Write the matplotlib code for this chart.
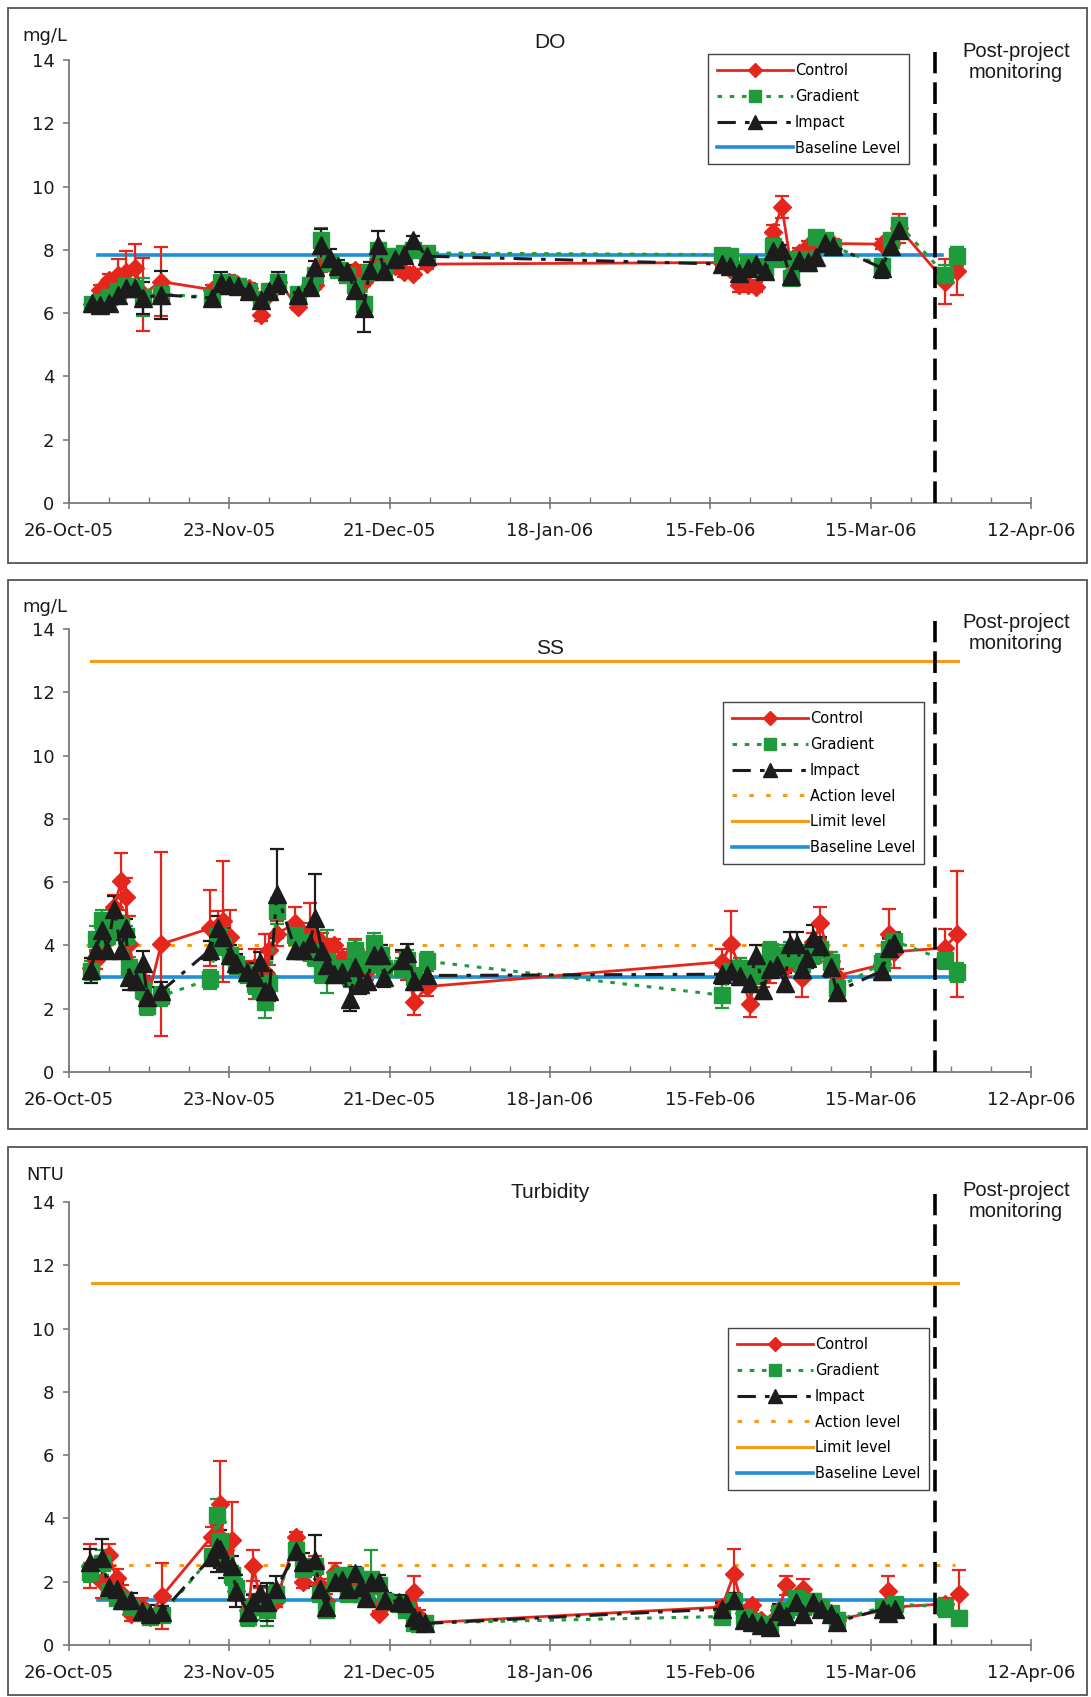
import numpy as np
import matplotlib
matplotlib.use("Agg")
import matplotlib.pyplot as plt
import matplotlib.dates as mdates
from matplotlib.lines import Line2D
from matplotlib.patches import Rectangle
from datetime import datetime

nan = np.nan
START = mdates.date2num(datetime(2005, 10, 26))
POST_DAY = 151.2  # days after 26-Oct-05 where post-project monitoring starts

# ---------------- DO (mg/L) ----------------
do_days = [4, 5.5, 7, 8.5, 10, 11.5, 13, 16,
           25, 26.5, 28, 29.5, 31.5, 33.5, 35, 36.5,
           40, 42, 43, 44, 45.5, 47, 48.5, 50, 51.5, 52.5, 54, 55,
           57, 58.5, 60, 62.5,
           114, 115.5, 117, 118.5, 120, 121.5, 123, 124.5, 126, 127.5, 129, 130.5, 132, 133.5,
           142, 143.5, 145,
           153, 155]
do_control = [6.30, 6.74, 7.05, 7.20, 7.30, 7.43, 6.60, 7.00,
              6.74, 6.95, 7.00, 6.90, 6.80, 5.95, 6.60, 7.00,
              6.20, 6.90, 6.90, 7.50, 7.60, 7.40, 7.30, 7.37, 7.00, 7.20, 7.70, 7.50,
              7.50, 7.30, 7.25, 7.55,
              7.60, 7.40, 6.88, 6.90, 6.82, 7.50, 8.57, 9.36, 7.60, 7.90, 8.12, 8.10, 8.20, 8.20,
              8.18, 8.20, 8.68,
              7.00, 7.33]
do_control_err = [0.10, 0.15, 0.20, 0.50, 0.65, 0.75, 1.15, 1.10,
                  0.15, 0.20, 0.20, 0.15, 0.15, 0.20, 0.15, 0.20,
                  0.10, 0.15, 0.15, 0.20, 0.20, 0.15, 0.15, 0.15, 0.15, 0.15, 0.20, 0.15,
                  0.15, 0.15, 0.15, 0.15,
                  0.15, 0.15, 0.20, 0.15, 0.15, 0.15, 0.20, 0.35, 0.15, 0.15, 0.15, 0.15, 0.15, 0.15,
                  0.15, 0.30, 0.45,
                  0.70, 0.75]
do_gradient = [6.30, 6.35, 6.50, 6.70, 6.85, 6.80, 6.50, 6.60,
               6.50, 7.00, 6.95, 6.85, 6.70, 6.45, 6.70, 7.00,
               6.60, 6.90, 7.20, 8.30, 7.60, 7.35, 7.20, 6.90, 6.30, 7.30, 8.00, 7.40,
               7.80, 7.90, 8.00, 7.90,
               7.85, 7.80, 7.40, 7.60, 7.50, 7.40, 8.12, 7.70, 7.10, 7.70, 7.60, 8.40, 8.30, 8.10,
               7.50, 8.30, 8.80,
               7.21, 7.80]
do_gradient_err = [0.15, 0.15, 0.15, 0.20, 0.20, 0.20, 0.60, 0.30,
                   0.15, 0.15, 0.15, 0.15, 0.15, 0.15, 0.15, 0.20,
                   0.15, 0.15, 0.20, 0.40, 0.20, 0.20, 0.20, 0.20, 0.20, 0.20, 0.20, 0.20,
                   0.15, 0.15, 0.15, 0.15,
                   0.15, 0.15, 0.15, 0.15, 0.15, 0.15, 0.15, 0.15, 0.20, 0.15, 0.15, 0.15, 0.15, 0.15,
                   0.20, 0.15, 0.20,
                   0.30, 0.30]
do_impact = [6.32, 6.27, 6.32, 6.58, 6.79, 6.79, 6.48, 6.58,
             6.48, 6.95, 6.90, 6.85, 6.69, 6.42, 6.69, 6.95,
             6.58, 6.84, 7.45, 8.16, 7.74, 7.48, 7.32, 6.74, 6.16, 7.37, 8.16, 7.32,
             7.70, 7.85, 8.30, 7.80,
             7.55, 7.50, 7.27, 7.42, 7.55, 7.33, 7.95, 8.00, 7.16, 7.67, 7.61, 7.78, 8.23, 8.12,
             7.42, 8.12, 8.63,
             nan, nan]
do_impact_err = [0.10, 0.10, 0.10, 0.20, 0.20, 0.20, 0.50, 0.75,
                 0.10, 0.35, 0.15, 0.15, 0.15, 0.15, 0.15, 0.35,
                 0.15, 0.15, 0.20, 0.50, 0.30, 0.20, 0.20, 0.20, 0.75, 0.25, 0.45, 0.20,
                 0.15, 0.15, 0.15, 0.15,
                 0.15, 0.15, 0.15, 0.15, 0.15, 0.15, 0.15, 0.15, 0.15, 0.30, 0.15, 0.15, 0.15, 0.15,
                 0.30, 0.20, 0.20,
                 nan, nan]
do_baseline = 7.85
do_baseline_span = (5.0, 152.5)

# ---------------- SS (mg/L) ----------------
ss_days = [3.8, 4.7, 5.8, 6.7, 7.9, 9.1, 9.9, 10.5, 11.7, 12.9, 13.7, 16.1,
           24.6, 26.0, 26.9, 28.1, 29.2, 31.0, 32.5, 33.3, 34.2, 35.0, 36.3,
           39.5, 40.9, 42.1, 43.0, 44.2, 45.0, 46.2, 47.7, 49.1, 50.0, 50.9, 52.0, 53.2, 54.4, 55.0,
           58.2, 59.1, 60.3, 62.5,
           114.0, 115.6, 117.1, 118.9, 120.0, 121.2, 122.4, 123.6, 125.0, 125.9, 127.1, 128.0, 128.9,
           130.0, 131.2, 133.0, 134.1,
           142.0, 143.2, 144.1,
           152.9, 155.1]
ss_control = [3.30, 3.54, 4.00, 4.50, 5.20, 6.03, 5.53, 4.04, 3.00, 2.90, 2.30, 4.04,
              4.54, 4.60, 4.76, 4.26, 3.50, 3.20, 3.10, 3.15, 3.15, 3.87, 4.37,
              4.70, 4.40, 4.43, 4.30, 4.09, 3.90, 4.00, 3.60, 3.50, 3.90, 3.30, 3.20, 3.60, 3.50, 3.30,
              3.40, 3.20, 2.21, 2.70,
              3.48, 4.03, 3.30, 2.15, 3.20, 3.00, 3.40, 3.50, 3.30, 3.70, 3.50, 2.98, 3.60,
              4.10, 4.70, 3.50, 3.04,
              3.40, 4.36, 3.80,
              3.92, 4.36]
ss_control_err = [0.30, 0.30, 0.40, 0.50, 0.40, 0.90, 0.60, 0.90, 0.30, 0.30, 0.40, 2.90,
                  1.20, 0.50, 1.90, 0.85, 0.40, 0.30, 0.80, 0.40, 1.20, 0.50, 0.40,
                  0.50, 0.30, 0.90, 0.30, 0.30, 0.30, 0.20, 0.30, 0.30, 0.30, 0.30, 0.30, 0.40, 0.30, 0.30,
                  0.40, 0.30, 0.40, 0.30,
                  0.40, 1.05, 0.30, 0.40, 0.30, 0.30, 0.60, 0.30, 0.30, 0.30, 0.30, 0.60, 0.30,
                  0.30, 0.50, 0.30, 0.20,
                  0.30, 0.80, 0.50,
                  0.60, 2.00]
ss_gradient = [3.20, 4.20, 4.81, 4.30, 4.54, 4.60, 4.30, 3.32, 3.00, 2.60, 2.10, 2.40,
               2.93, 4.30, 4.00, 3.70, 3.40, 3.10, 2.77, 2.60, 2.21, 2.80, 5.09,
               4.32, 4.10, 3.80, 3.65, 3.10, 3.50, 3.30, 3.30, 3.00, 3.87, 3.50, 3.40, 4.09, 3.70, 3.30,
               3.30, 3.54, 3.00, 3.50,
               2.43, 3.20, 3.30, 3.10, 3.09, 3.30, 3.81, 3.70, 3.60, 3.80, 3.59, 3.40, 3.70,
               3.70, 3.90, 3.48, 2.65,
               3.43, 3.90, 4.14,
               3.54, 3.15]
ss_gradient_err = [0.30, 0.40, 0.30, 0.30, 0.30, 0.30, 0.30, 0.30, 0.30, 0.30, 0.30, 0.30,
                   0.30, 0.30, 0.30, 0.30, 0.30, 0.30, 0.30, 0.30, 0.50, 0.30, 0.40,
                   0.30, 0.30, 0.30, 0.30, 0.30, 1.00, 0.30, 0.30, 0.30, 0.30, 0.30, 0.30, 0.30, 0.30, 0.30,
                   0.30, 0.30, 0.30, 0.30,
                   0.40, 0.30, 0.30, 0.30, 0.30, 0.30, 0.30, 0.30, 0.30, 0.30, 0.30, 0.30, 0.30,
                   0.30, 0.30, 0.30, 0.30,
                   0.30, 0.30, 0.30,
                   0.30, 0.30]
ss_impact = [3.21, 3.87, 4.48, 3.87, 5.15, 3.87, 4.54, 2.99, 2.88, 3.43, 2.38, 2.55,
             3.85, 4.54, 4.26, 3.71, 3.43, 3.15, 2.99, 3.49, 2.55, 2.55, 5.64,
             3.87, 3.87, 4.09, 4.87, 3.82, 3.38, 3.10, 3.15, 2.32, 3.32, 2.77, 2.88, 3.71, 3.71, 2.99,
             3.54, 3.76, 2.88, 3.05,
             3.09, 3.20, 3.04, 2.82, 3.70, 2.60, 3.26, 3.37, 2.82, 4.03, 4.03, 3.26, 3.59,
             4.25, 3.98, 3.31, 2.54,
             3.20, 3.92, 4.09,
             nan, nan]
ss_impact_err = [0.40, 0.30, 0.40, 0.30, 0.40, 0.30, 0.30, 0.40, 0.30, 0.40, 0.30, 0.30,
                 0.30, 0.40, 0.30, 0.30, 0.30, 0.30, 0.30, 0.30, 0.30, 0.30, 1.40,
                 0.30, 0.30, 0.30, 1.40, 0.30, 0.30, 0.30, 0.30, 0.40, 0.30, 0.30, 0.30, 0.40, 0.30, 0.30,
                 0.30, 0.30, 0.30, 0.30,
                 0.30, 0.30, 0.30, 0.30, 0.30, 0.30, 0.30, 0.30, 0.30, 0.40, 0.40, 0.30, 0.30,
                 0.40, 0.30, 0.30, 0.30,
                 0.30, 0.30, 0.30,
                 nan, nan]
ss_limit, ss_limit_span = 13.0, (3.8, 155.2)
ss_action, ss_action_span = 4.0, (3.0, 155.0)
ss_baseline, ss_baseline_span = 3.0, (5.0, 154.0)

# ---------------- Turbidity (NTU) ----------------
tu_days = [3.7, 5.7, 6.9, 8.3, 9.2, 10.9, 12.7, 14.1, 16.2,
           24.9, 25.8, 26.3, 27.2, 28.4, 29.2, 31.3, 32.2, 33.3, 34.5, 36.2,
           39.7, 40.9, 42.9, 43.8, 44.9, 46.4, 47.6, 48.7, 49.9, 51.0, 51.9, 52.8, 54.2, 55.1,
           57.7, 58.9, 60.2, 61.1, 62.2,
           114.0, 116.1, 117.9, 119.3, 120.8, 122.5, 124.0, 125.2, 126.9, 128.1, 129.9, 131.3, 133.1, 134.2,
           142.2, 143.0, 144.2,
           153.0, 155.4]
tu_control = [2.50, 2.00, 2.85, 2.11, 1.60, 0.97, 1.20, 0.90, 1.54,
              3.42, 3.50, 4.45, 3.00, 3.31, 1.70, 1.10, 2.51, 1.50, 1.10, 1.40,
              3.42, 2.00, 2.50, 1.90, 1.40, 2.30, 2.00, 1.80, 2.10, 1.70, 1.90, 1.80, 0.97, 1.30,
              1.30, 1.20, 1.68, 0.90, 0.70,
              1.20, 2.23, 1.00, 1.26, 0.80, 0.70, 1.10, 1.89, 1.40, 1.77, 1.30, 1.20, 1.00, 0.80,
              1.10, 1.72, 1.20,
              1.30, 1.60]
tu_control_err = [0.70, 0.50, 0.35, 0.30, 0.30, 0.20, 0.30, 0.20, 1.05,
                  0.30, 0.30, 1.35, 0.40, 1.20, 0.30, 0.20, 0.50, 0.30, 0.20, 0.20,
                  0.15, 0.20, 0.30, 0.20, 0.20, 0.30, 0.20, 0.20, 0.20, 0.20, 0.20, 0.20, 0.10, 0.20,
                  0.20, 0.20, 0.50, 0.20, 0.10,
                  0.20, 0.80, 0.20, 0.15, 0.10, 0.10, 0.20, 0.30, 0.20, 0.30, 0.20, 0.20, 0.10, 0.10,
                  0.20, 0.45, 0.20,
                  0.20, 0.78]
tu_gradient = [2.30, 2.60, 1.70, 1.50, 1.40, 1.20, 1.00, 0.90, 0.95,
               2.80, 4.10, 3.30, 2.60, 2.20, 1.80, 0.90, 1.20, 1.30, 1.10, 1.60,
               3.00, 2.40, 2.50, 1.60, 1.10, 2.10, 2.20, 1.60, 2.20, 1.60, 1.50, 2.10, 1.90, 1.40,
               1.30, 1.10, 0.70, 0.65, 0.70,
               0.90, 1.40, 0.90, 0.75, 0.65, 0.60, 1.00, 1.10, 1.50, 1.20, 1.40, 1.20, 1.00, 0.80,
               1.20, 1.00, 1.30,
               1.20, 0.86]
tu_gradient_err = [0.30, 0.40, 0.20, 0.20, 0.20, 0.20, 0.20, 0.20, 0.20,
                   0.20, 0.50, 0.60, 0.30, 0.30, 0.30, 0.30, 0.40, 0.30, 0.50, 0.30,
                   0.20, 0.20, 0.20, 0.20, 0.20, 0.20, 0.20, 0.20, 0.20, 0.20, 0.20, 0.90, 0.20, 0.20,
                   0.20, 0.20, 0.20, 0.20, 0.20,
                   0.20, 0.20, 0.20, 0.20, 0.20, 0.20, 0.20, 0.20, 0.20, 0.20, 0.20, 0.20, 0.20, 0.20,
                   0.20, 0.20, 0.20,
                   0.30, 0.20]
tu_impact = [2.62, 2.74, 1.82, 1.77, 1.43, 1.43, 1.08, 0.97, 1.03,
             2.79, 3.10, 3.02, 2.62, 2.51, 1.71, 1.03, 1.37, 1.65, 1.37, 1.77,
             2.96, 2.62, 2.68, 1.77, 1.20, 2.00, 2.05, 1.77, 2.28, 1.82, 1.48, 2.00, 2.00, 1.43,
             1.37, 1.32, 0.90, 0.79, 0.68,
             1.14, 1.43, 0.80, 0.74, 0.63, 0.57, 1.09, 0.92, 1.37, 0.97, 1.37, 1.14, 0.97, 0.74,
             1.14, 1.00, 1.14,
             nan, nan]
tu_impact_err = [0.40, 0.60, 0.20, 0.20, 0.20, 0.20, 0.20, 0.30, 0.20,
                 0.20, 0.80, 0.60, 0.50, 0.30, 0.50, 0.40, 0.20, 0.20, 0.60, 0.40,
                 0.20, 0.30, 0.80, 0.20, 0.20, 0.20, 0.30, 0.20, 0.20, 0.20, 0.20, 0.20, 0.20, 0.20,
                 0.20, 0.20, 0.20, 0.20, 0.20,
                 0.20, 0.20, 0.20, 0.20, 0.20, 0.20, 0.20, 0.20, 0.20, 0.20, 0.20, 0.20, 0.20, 0.20,
                 0.20, 0.20, 0.20,
                 nan, nan]
tu_limit, tu_limit_span = 11.45, (4.0, 155.3)
tu_action, tu_action_span = 2.53, (4.5, 154.7)
tu_baseline, tu_baseline_span = 1.43, (5.0, 153.5)

# ---------------- styling ----------------
RED = "#e4261d"
GREEN = "#1f9a3c"
BLACK = "#1c1c1c"
ORANGE = "#f39c1c"
BLUE = "#1e8fd6"

series_style = {
    "Control": dict(color=RED, ls="-", marker="D", ms=9.5, lw=2.0),
    "Gradient": dict(color=GREEN, ls=(0, (1.5, 2.5)), marker="s", ms=11.5, lw=2.2),
    "Impact": dict(color=BLACK, ls=(0, (6, 3, 1.5, 3)), marker="^", ms=12.5, lw=2.2),
}

W, H = 1091, 1697
fig = plt.figure(figsize=(W / 100, H / 100), dpi=100)


def fx(x):
    return x / W


def fy(y):
    return 1 - y / H


def dnum(days):
    return START + np.asarray(days, dtype=float)


def level_line(ax, y, span, **kw):
    ax.plot(dnum(list(span)), [y, y], **kw)


def draw_panel(box, ax_bottom, ax_top, days, data, unit, unit_y, title, title_y,
               post_y, legend_xy, levels):
    # outer frame
    x0, y0, x1, y1 = box
    fig.patches.append(Rectangle((fx(x0), fy(y1)), fx(x1) - fx(x0), fy(y0) - fy(y1),
                                 transform=fig.transFigure, fill=False,
                                 edgecolor="#555555", lw=1.3))
    ax = fig.add_axes([fx(69), fy(ax_bottom), fx(1031) - fx(69), fy(ax_top) - fy(ax_bottom)])

    for name in ["Control", "Gradient", "Impact"]:
        vals, errs = data[name]
        st = series_style[name]
        ax.errorbar(dnum(days), vals, yerr=errs, color=st["color"], ls=st["ls"], lw=st["lw"],
                    marker=st["marker"], ms=st["ms"], mec=st["color"], mfc=st["color"],
                    ecolor=st["color"], elinewidth=1.6, capsize=5, capthick=1.6, zorder=3)

    names = ["Control", "Gradient", "Impact"]
    handles = [Line2D([], [], color=series_style[n]["color"], ls=series_style[n]["ls"],
                      lw=series_style[n]["lw"], marker=series_style[n]["marker"],
                      ms=series_style[n]["ms"] * 0.8) for n in names]
    labels = list(names)

    if "action" in levels:
        y, span = levels["action"]
        level_line(ax, y, span, color=ORANGE, lw=2.2, ls=(0, (1.5, 4)), zorder=2)
        handles.append(Line2D([], [], color=ORANGE, lw=2.2, ls=(0, (1.5, 4))))
        labels.append("Action level")
    if "limit" in levels:
        y, span = levels["limit"]
        level_line(ax, y, span, color=ORANGE, lw=2.2, zorder=2)
        handles.append(Line2D([], [], color=ORANGE, lw=2.2))
        labels.append("Limit level")
    y, span = levels["baseline"]
    level_line(ax, y, span, color=BLUE, lw=2.6, zorder=2)
    handles.append(Line2D([], [], color=BLUE, lw=2.6))
    labels.append("Baseline Level")

    # post-project divider
    ax.plot(dnum([POST_DAY, POST_DAY]), [0, 14.25], color="black", lw=2.6,
            ls=(0, (6, 2.5)), clip_on=False, zorder=4)

    ax.set_xlim(START, START + 168)
    ax.set_ylim(0, 14)
    ax.set_yticks(range(0, 15, 2))
    ax.xaxis.set_major_locator(matplotlib.ticker.FixedLocator(dnum(range(0, 169, 28))))
    ax.xaxis.set_minor_locator(matplotlib.ticker.FixedLocator(dnum(range(0, 169, 7))))
    ax.xaxis.set_major_formatter(mdates.DateFormatter("%d-%b-%y"))
    for s in ["top", "right"]:
        ax.spines[s].set_visible(False)
    for s in ["left", "bottom"]:
        ax.spines[s].set_color("#7a7a7a")
        ax.spines[s].set_linewidth(1.3)
    ax.tick_params(axis="x", which="major", direction="inout", length=9, width=1.2,
                   color="#7a7a7a", pad=9, labelsize=13, labelcolor="#1a1a1a")
    ax.tick_params(axis="x", which="minor", direction="in", length=4, width=1.0, color="#7a7a7a")
    ax.tick_params(axis="y", direction="out", length=4.5, width=1.2, color="#7a7a7a",
                   pad=6, labelsize=13, labelcolor="#1a1a1a")
    ax.patch.set_alpha(0)

    fig.text(fx(45), fy(unit_y), unit, ha="center", va="center", fontsize=13, color="#1a1a1a")
    fig.text(fx(550), fy(title_y), title, ha="center", va="center", fontsize=15,
             family="Liberation Sans", color="#1a1a1a")
    fig.text(fx(1016), fy(post_y), "Post-project\nmonitoring", ha="center", va="center",
             fontsize=14.5, family="Liberation Sans", linespacing=1.15, color="#1a1a1a")

    leg = ax.legend(handles, labels, loc="upper left",
                    bbox_to_anchor=(fx(legend_xy[0]), fy(legend_xy[1])),
                    bbox_transform=fig.transFigure, borderaxespad=0, numpoints=1,
                    handlelength=5.2, handletextpad=0.15, labelspacing=0.75,
                    fontsize=10.5, fancybox=False, framealpha=1, edgecolor="#444444",
                    borderpad=0.6)
    leg.get_frame().set_linewidth(1.0)
    return ax


draw_panel((8, 8, 1087, 563), 503, 60, do_days,
           {"Control": (do_control, do_control_err),
            "Gradient": (do_gradient, do_gradient_err),
            "Impact": (do_impact, do_impact_err)},
           "mg/L", 36, "DO", 43, 62, (708, 54),
           {"baseline": (do_baseline, do_baseline_span)})

draw_panel((8, 580, 1087, 1129), 1072, 629, ss_days,
           {"Control": (ss_control, ss_control_err),
            "Gradient": (ss_gradient, ss_gradient_err),
            "Impact": (ss_impact, ss_impact_err)},
           "mg/L", 607, "SS", 649, 633, (723, 702),
           {"action": (ss_action, ss_action_span),
            "limit": (ss_limit, ss_limit_span),
            "baseline": (ss_baseline, ss_baseline_span)})

draw_panel((8, 1147, 1087, 1695), 1645, 1202, tu_days,
           {"Control": (tu_control, tu_control_err),
            "Gradient": (tu_gradient, tu_gradient_err),
            "Impact": (tu_impact, tu_impact_err)},
           "NTU", 1175, "Turbidity", 1193, 1201, (728, 1328),
           {"action": (tu_action, tu_action_span),
            "limit": (tu_limit, tu_limit_span),
            "baseline": (tu_baseline, tu_baseline_span)})

fig.savefig("out.png", dpi=100, facecolor="white")
